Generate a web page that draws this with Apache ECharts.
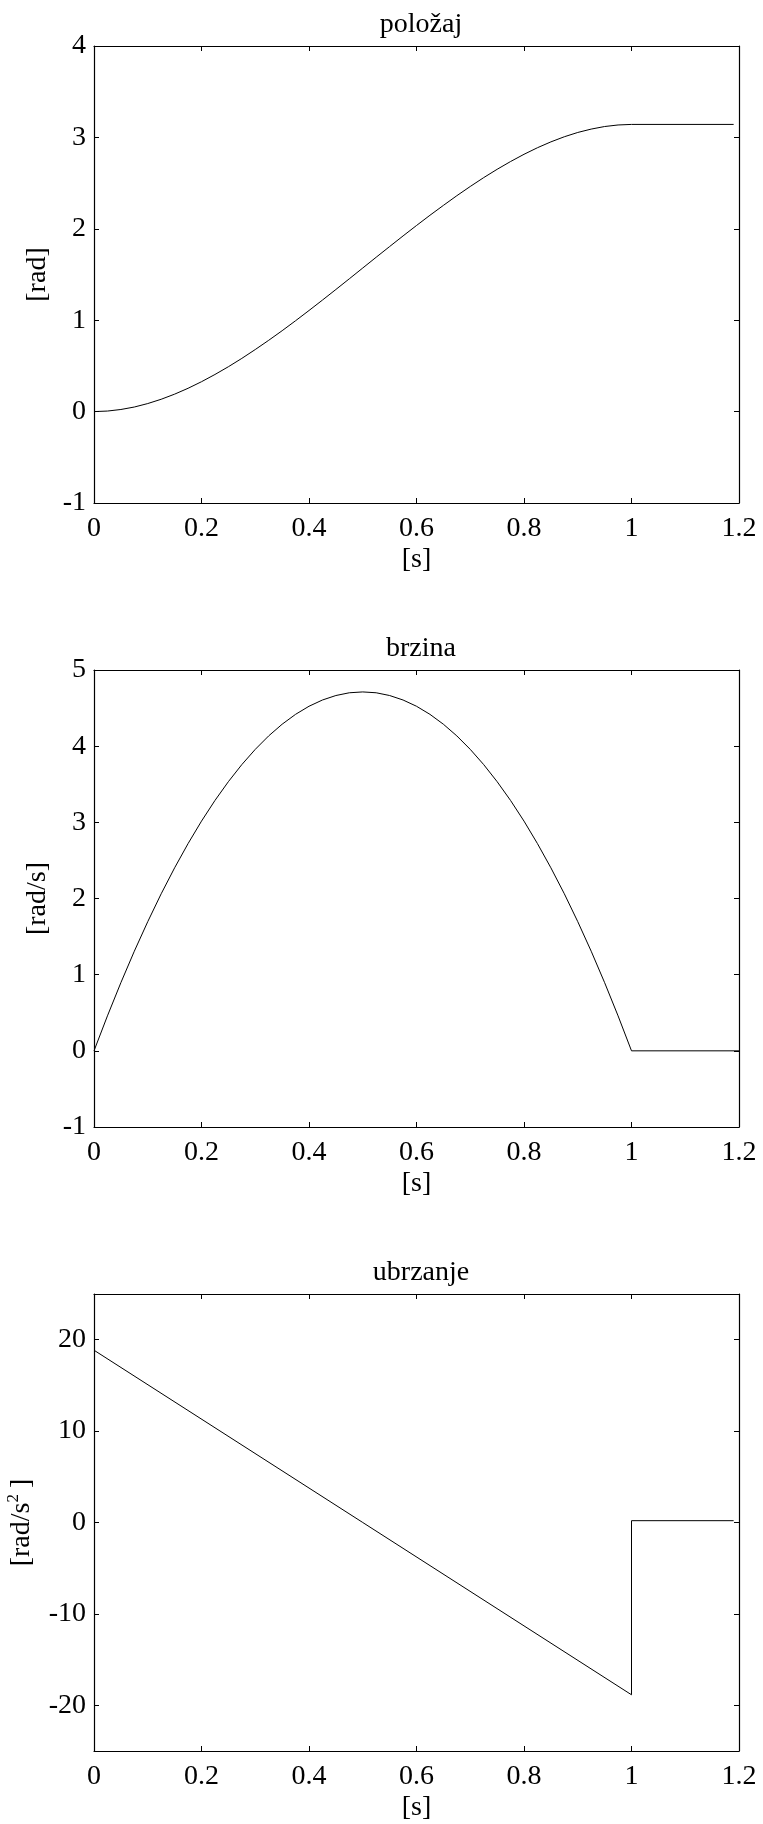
<!DOCTYPE html>
<html>
<head>
<meta charset="utf-8">
<script src="https://cdn.jsdelivr.net/npm/echarts@6.0.0/dist/echarts.min.js"></script>
<style>
html,body{margin:0;padding:0;background:#fff;}
#chart{width:763px;height:1824px;}
</style>
</head>
<body>
<div id="chart"></div>
<script>
// ---- data ----
const titles = ['položaj', 'brzina', 'ubrzanje'];
const xTicks = [0, 0.2, 0.4, 0.6, 0.8, 1, 1.2];
const yTicksPos = [-1, 0, 1, 2, 3, 4];
const yTicksVel = [-1, 0, 1, 2, 3, 4, 5];
const yTicksAcc = [-20, -10, 0, 10, 20];

const timePos = [0, 0.025, 0.05, 0.075, 0.1, 0.125, 0.15, 0.175, 0.2, 0.225, 0.25, 0.275, 0.3, 0.325, 0.35, 0.375, 0.4, 0.425, 0.45, 0.475, 0.5,
  0.525, 0.55, 0.575, 0.6, 0.625, 0.65, 0.675, 0.7, 0.725, 0.75, 0.775, 0.8, 0.825, 0.85, 0.875, 0.9, 0.925, 0.95, 0.975, 1.0, 1.19];
const position = [0, 0.006, 0.023, 0.050, 0.088, 0.135, 0.191, 0.255, 0.327, 0.406, 0.491, 0.582, 0.679, 0.780, 0.885, 0.994, 1.106, 1.220, 1.336, 1.453, 1.571,
  1.689, 1.806, 1.922, 2.036, 2.148, 2.256, 2.362, 2.463, 2.560, 2.651, 2.736, 2.815, 2.887, 2.951, 3.007, 3.054, 3.091, 3.119, 3.136, 3.142, 3.142];

const timeVel = [0, 0.025, 0.05, 0.075, 0.1, 0.125, 0.15, 0.175, 0.2, 0.225, 0.25, 0.275, 0.3, 0.325, 0.35, 0.375, 0.4, 0.425, 0.45, 0.475, 0.5,
  0.525, 0.55, 0.575, 0.6, 0.625, 0.65, 0.675, 0.7, 0.725, 0.75, 0.775, 0.8, 0.825, 0.85, 0.875, 0.9, 0.925, 0.95, 0.975, 1.0, 1.2];
const velocity = [0, 0.459, 0.895, 1.308, 1.696, 2.062, 2.403, 2.721, 3.016, 3.287, 3.534, 3.758, 3.958, 4.135, 4.288, 4.418, 4.524, 4.606, 4.665, 4.701, 4.712,
  4.701, 4.665, 4.606, 4.524, 4.418, 4.288, 4.135, 3.958, 3.758, 3.534, 3.287, 3.016, 2.721, 2.403, 2.062, 1.696, 1.308, 0.895, 0.459, 0, 0];

const timeAcc = [0, 1.0, 1.0, 1.19];
const acceleration = [18.85, -18.85, 0.2, 0.2];

// ---- styling ----
const FONT = '"Liberation Serif", "Times New Roman", serif';
const FS = 28;
const gridTops = [46, 670, 1294];
const GRID_H = 457;
const txt = { color: '#000', fontFamily: FONT, fontSize: FS, lineHeight: FS };

function pairs(xs, ys) { return xs.map((x, i) => [x, ys[i]]); }

const grids = gridTops.map(t => ({ left: 94, right: 24, top: t, height: GRID_H, containLabel: false, outerBoundsMode: 'none' }));

const xAxes = [];
const yAxes = [];
const yCfg = [
  { min: -1, max: 4, ticks: yTicksPos, name: '[rad]', gap: 40 },
  { min: -1, max: 5, ticks: yTicksVel, name: '[rad/s]', gap: 40 },
  { min: -25, max: 25, ticks: yTicksAcc, name: '[rad/s{sup|2}]', gap: 50 }
];
const axLine = { show: true, onZero: false, lineStyle: { color: '#000', width: 1.2 } };
const tick = (vals) => ({ show: true, inside: true, length: 5, lineStyle: { color: '#000', width: 1 }, customValues: vals });

for (let g = 0; g < 3; g++) {
  xAxes.push({
    type: 'value', gridIndex: g, position: 'bottom', min: 0, max: 1.2,
    axisLine: axLine, axisTick: tick(xTicks), splitLine: { show: false },
    axisLabel: Object.assign({ margin: 12, customValues: xTicks }, txt),
    name: '[s]', nameLocation: 'middle', nameGap: 43, nameTextStyle: txt
  });
  xAxes.push({
    type: 'value', gridIndex: g, position: 'top', min: 0, max: 1.2,
    axisLine: axLine, axisTick: tick(xTicks), splitLine: { show: false },
    axisLabel: { show: false }
  });
  const c = yCfg[g];
  yAxes.push({
    type: 'value', gridIndex: g, position: 'left', min: c.min, max: c.max,
    axisLine: axLine, axisTick: tick(c.ticks), splitLine: { show: false },
    axisLabel: Object.assign({ margin: 8, padding: [7, 0, 0, 0], customValues: c.ticks }, txt),
    name: c.name, nameLocation: 'middle', nameGap: c.gap,
    nameTextStyle: Object.assign({}, txt, {
      rich: { sup: { color: '#000', fontFamily: FONT, fontSize: 17, lineHeight: 17, padding: [0, 6, 16, 0] } }
    })
  });
  yAxes.push({
    type: 'value', gridIndex: g, position: 'right', min: c.min, max: c.max,
    axisLine: axLine, axisTick: tick(c.ticks), splitLine: { show: false },
    axisLabel: { show: false }
  });
}

const lineSeries = (g, data) => ({
  type: 'line', xAxisIndex: g * 2, yAxisIndex: g * 2, data: data,
  showSymbol: false, symbol: 'none', smooth: false,
  lineStyle: { color: '#000', width: 1 }, animation: false
});

const option = {
  backgroundColor: '#fff',
  animation: false,
  title: titles.map((t, i) => ({
    text: t, left: 416, top: gridTops[i] - 40, textAlign: 'center',
    textStyle: Object.assign({ fontWeight: 'normal' }, txt)
  })),
  grid: grids,
  xAxis: xAxes,
  yAxis: yAxes,
  series: [
    lineSeries(0, pairs(timePos, position)),
    lineSeries(1, pairs(timeVel, velocity)),
    lineSeries(2, pairs(timeAcc, acceleration))
  ]
};

const chart = echarts.init(document.getElementById('chart'), null, { renderer: 'canvas' });
chart.setOption(option);
</script>
</body>
</html>
